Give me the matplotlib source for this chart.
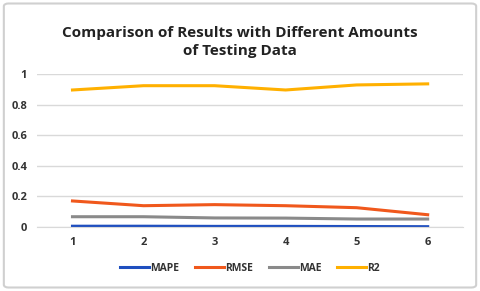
import matplotlib.pyplot as plt
from matplotlib.patches import FancyBboxPatch

x = [1, 2, 3, 4, 5, 6]
mape = [0.005, 0.005, 0.004, 0.004, 0.003, 0.002]
rmse = [0.17, 0.139, 0.146, 0.139, 0.126, 0.08]
mae = [0.067, 0.067, 0.059, 0.058, 0.052, 0.052]
r2 = [0.895, 0.923, 0.923, 0.895, 0.928, 0.935]
yticks = [0, 0.2, 0.4, 0.6, 0.8, 1]
ylabels = ['0', '0.2', '0.4', '0.6', '0.8', '1']

plt.rcParams['font.family'] = ['Open Sans', 'DejaVu Sans']

fig = plt.figure(figsize=(4.8, 2.91), dpi=100)
fig.patches.append(FancyBboxPatch((0.008, 0.012), 0.984, 0.976, boxstyle='round,pad=0,rounding_size=0.01',
                                  transform=fig.transFigure, fill=False, edgecolor='#d0d0d0', linewidth=1.5))
ax = fig.add_axes([0.077, 0.22, 0.888, 0.526])

ax.plot(x, mape, color='#1f4fbf', lw=2.2, label='MAPE')
ax.plot(x, rmse, color='#f0581c', lw=2.2, label='RMSE')
ax.plot(x, mae, color='#8a8a8a', lw=2.2, label='MAE')
ax.plot(x, r2, color='#ffb000', lw=2.2, label='R2')

ax.set_xlim(0.5, 6.5)
ax.set_ylim(0, 1)
ax.set_xticks(x)
ax.set_yticks(yticks)
ax.set_yticklabels(ylabels)
ax.grid(axis='y', color='#d9d9d9', lw=1)
ax.set_axisbelow(True)
for s in ['top', 'right', 'left']:
    ax.spines[s].set_visible(False)
ax.spines['bottom'].set_color('#d9d9d9')
ax.tick_params(length=0, labelsize=8, colors='#333333', pad=7)
for t in ax.get_xticklabels() + ax.get_yticklabels():
    t.set_fontweight('bold')

fig.text(0.5, 0.855, 'Comparison of Results with Different Amounts\nof Testing Data', ha='center', va='center',
         fontsize=11, fontweight='bold', color='#222222', linespacing=1.35)

leg = ax.legend(loc='center', bbox_to_anchor=(0.5, -0.27), ncol=4, frameon=False, fontsize=7.5,
                handlelength=2.8, handletextpad=0.1, columnspacing=1.5)
for t in leg.get_texts():
    t.set_fontweight('bold')
    t.set_color('#333333')

fig.savefig('out.png', dpi=100)
